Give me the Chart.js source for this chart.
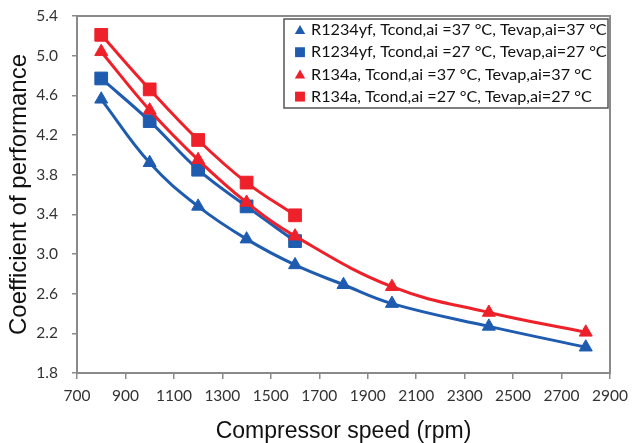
<!DOCTYPE html>
<html>
<head>
<meta charset="utf-8">
<script src="https://cdn.jsdelivr.net/npm/chart.js@4.4.0/dist/chart.umd.min.js"></script>
<style>
    html, body { margin: 0; padding: 0; background: #fff; }
    #wrap { width: 632px; height: 443px; }
</style>
</head>
<body>
<div id="wrap"><canvas id="chart" width="632" height="443"></canvas></div>
<script>
// Compressor speeds (rpm) for each series
const speedsR1234yf37 = [800, 1000, 1200, 1400, 1600, 1800, 2000, 2400, 2800];
const speedsR1234yf27 = [800, 1000, 1200, 1400, 1600];
const speedsR134a37 = [800, 1000, 1200, 1400, 1600, 2000, 2400, 2800];
const speedsR134a27 = [800, 1000, 1200, 1400, 1600];

// Coefficient of performance
const copR1234yf37 = [4.56, 3.92, 3.48, 3.15, 2.89, 2.69, 2.50, 2.27, 2.06];
const copR1234yf27 = [4.77, 4.34, 3.85, 3.48, 3.13];
const copR134a37 = [5.04, 4.45, 3.95, 3.52, 3.18, 2.67, 2.41, 2.21];
const copR134a27 = [5.21, 4.66, 4.15, 3.72, 3.39];

const seriesLabels = [
    'R1234yf, Tcond,ai =37 °C, Tevap,ai=37 °C',
    'R1234yf, Tcond,ai =27 °C, Tevap,ai=27 °C',
    'R134a, Tcond,ai =37 °C, Tevap,ai=37 °C',
    'R134a, Tcond,ai =27 °C, Tevap,ai=27 °C'
];

// Axis ranges
const xMin = 700, xMax = 2900, xStep = 200;
const yMin = 1.8, yMax = 5.4, yStep = 0.4;

const BLUE = '#1f5cb0';
const RED = '#ee2029';
const AXIS = '#8a8a8a';

function points(xs, ys) {
    return xs.map((x, i) => ({ x: x, y: ys[i] }));
}

function series(label, xs, ys, color, style, radius, order) {
    return {
        label: label,
        data: points(xs, ys),
        borderColor: color,
        backgroundColor: color,
        borderWidth: 3,
        pointStyle: style,
        pointRadius: radius,
        pointBackgroundColor: color,
        pointBorderColor: color,
        pointBorderWidth: 1,
        tension: 0.4,
        order: order
    };
}

// Box round the plot area
const frame = {
    id: 'frame',
    beforeDatasetsDraw(chart) {
        const { ctx, chartArea: a } = chart;
        ctx.save();
        ctx.strokeStyle = AXIS;
        ctx.lineWidth = 2;
        ctx.strokeRect(a.left, a.top, a.right - a.left, a.bottom - a.top);
        ctx.restore();
    }
};

// Legend inside the plot, top right
const legendBox = {
    id: 'legendBox',
    afterDatasetsDraw(chart) {
        const { ctx, chartArea: a } = chart;
        const w = 324, h = 89;
        const x = a.right - w - 2, y = a.top + 3;
        ctx.save();
        ctx.fillStyle = '#fff';
        ctx.fillRect(x, y, w, h);
        ctx.strokeStyle = '#555';
        ctx.lineWidth = 1.5;
        ctx.strokeRect(x, y, w, h);
        ctx.font = '16.2px Lato';
        ctx.textBaseline = 'middle';
        chart.data.datasets.forEach((ds, i) => {
            const cy = y + 11 + i * 22.2;
            ctx.fillStyle = ds.backgroundColor;
            Chart.helpers.drawPoint(ctx, {
                pointStyle: ds.pointStyle,
                radius: ds.pointStyle === 'rect' ? 7 : 6,
                rotation: 0,
                borderWidth: 0
            }, x + 16, cy + (ds.pointStyle === 'triangle' ? 1 : 0));
            ctx.fillStyle = '#111';
            ctx.fillText(ds.label, x + 27, cy);
        });
        ctx.restore();
    }
};

const ctx = document.getElementById('chart').getContext('2d');

new Chart(ctx, {
    type: 'line',
    data: {
        datasets: [
            series(seriesLabels[0], speedsR1234yf37, copR1234yf37, BLUE, 'triangle', 7.5, 3),
            series(seriesLabels[1], speedsR1234yf27, copR1234yf27, BLUE, 'rect', 9, 2),
            series(seriesLabels[2], speedsR134a37, copR134a37, RED, 'triangle', 7.5, 1),
            series(seriesLabels[3], speedsR134a27, copR134a27, RED, 'rect', 9, 0)
        ]
    },
    options: {
        responsive: false,
        animation: false,
        devicePixelRatio: 1,
        events: [],
        layout: {
            padding: { top: 16, right: 22, bottom: 0, left: 0 }
        },
        plugins: {
            legend: { display: false },
            tooltip: { enabled: false }
        },
        scales: {
            x: {
                type: 'linear',
                min: xMin,
                max: xMax,
                ticks: {
                    stepSize: xStep,
                    padding: 8,
                    color: '#333',
                    font: { family: 'Lato', size: 15.5 },
                    callback: v => String(v)
                },
                grid: {
                    drawOnChartArea: false,
                    tickLength: 6,
                    color: AXIS,
                    lineWidth: 1.5
                },
                border: { color: AXIS, width: 2 },
                title: {
                    display: true,
                    text: 'Compressor speed (rpm)',
                    color: '#111',
                    font: { family: 'Liberation Sans', size: 23, lineHeight: 1 },
                    padding: { top: 0, bottom: 0 }
                },
                afterFit: s => {
                    s.height = 70;
                    s.paddingLeft = 0;
                    s.paddingRight = 0;
                }
            },
            y: {
                type: 'linear',
                min: yMin,
                max: yMax,
                ticks: {
                    stepSize: yStep,
                    padding: 14,
                    color: '#333',
                    font: { family: 'Lato', size: 15.5 },
                    callback: v => v.toFixed(1)
                },
                grid: {
                    drawOnChartArea: false,
                    tickLength: 5,
                    color: AXIS,
                    lineWidth: 1.5
                },
                border: { color: AXIS, width: 2 },
                title: {
                    display: true,
                    text: 'Coefficient of performance',
                    color: '#111',
                    font: { family: 'Liberation Sans', size: 24, lineHeight: 1 },
                    padding: { top: 7, bottom: 0 }
                },
                afterFit: s => {
                    s.width = 77;
                    s.paddingTop = 0;
                    s.paddingBottom = 0;
                }
            }
        }
    },
    plugins: [frame, legendBox]
});
</script>
</body>
</html>
